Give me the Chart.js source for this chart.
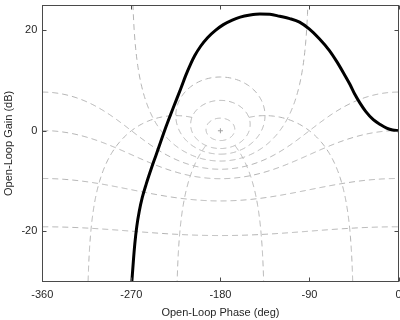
<!DOCTYPE html>
<html>
<head>
<meta charset="utf-8">
<script src="https://cdn.jsdelivr.net/npm/chart.js@4/dist/chart.umd.min.js"></script>
<style>
  html, body { margin: 0; padding: 0; background: #fff; }
  #wrap { width: 400px; height: 320px; }
</style>
</head>
<body>
<div id="wrap"><canvas id="c" width="400" height="320"></canvas></div>
<script>
// Open-loop response: phase (deg) and gain (dB)
const loopPhase = [-269.5, -268.0, -266.5, -264.5, -262.0, -259.0, -255.0, -250.0, -245.0, -240.0,
                   -235.0, -230.0, -225.0, -220.0, -215.0, -210.0, -206.0, -200.0, -193.0, -185.0,
                   -177.0, -168.0, -160.0, -150.0, -140.0, -130.0, -120.0, -110.0, -100.0, -90.0,
                   -80.0, -70.0, -62.5, -55.0, -49.0, -44.0, -38.9, -33.0, -25.5, -18.0,
                   -12.0, -6.0, 0.0];
const loopGain  = [-30.0, -26.0, -22.5, -19.0, -16.0, -13.3, -10.6, -7.6, -4.8, -2.0,
                   0.8, 3.4, 5.9, 8.4, 11.0, 13.3, 14.9, 16.8, 18.5, 19.95,
                   21.1, 22.0, 22.6, 23.0, 23.2, 23.15, 22.75, 22.3, 21.6, 20.2,
                   18.3, 16.0, 13.8, 11.3, 9.2, 7.2, 5.5, 3.8, 2.2, 1.2,
                   0.55, 0.15, 0.0];

// Nichols grid levels: closed-loop gain (dB) and closed-loop phase (deg)
const gridGainsDb = [12, 6, 3, 0, -3, -6, -12, -20];
const gridPhasesDeg = [45, 135, -135, -45];
const phaseLineTopDb = 6;

// Axis ticks
const xTicks = [-360, -270, -180, -90, 0];
const yTicks = [-20, 0, 20];

const RAD = Math.PI / 180;
const toDb = g => 20 * Math.log10(g);

// open-loop point for closed-loop T = m * e^{j phi}: G = T / (1 - T)
function openLoop(m, phiDeg) {
  const a = m * Math.cos(phiDeg * RAD), b = m * Math.sin(phiDeg * RAD);
  const t2 = a * a + b * b;
  const d = Math.hypot(1 - a, b);
  let ph = Math.atan2(b, a - t2) / RAD;
  if (ph > 0) ph -= 360;
  return { x: ph, y: toDb(m / d) };
}

function gainContour(db) {
  const m = Math.pow(10, db / 20);
  const pts = [];
  if (db < 0) {
    for (let th = -360; th <= 0; th += 1) {
      const c = Math.cos(th * RAD);
      const g = (m * m * c + Math.sqrt(m ** 4 * c * c + m * m * (1 - m * m))) / (1 - m * m);
      pts.push({ x: th, y: toDb(g) });
    }
  } else if (db === 0) {
    for (let th = -269.6; th <= -90.4; th += 0.4) {
      pts.push({ x: th, y: toDb(-1 / (2 * Math.cos(th * RAD))) });
    }
  } else {
    for (let phi = -180; phi <= 180; phi += 1) pts.push(openLoop(m, phi));
  }
  return pts;
}

function phaseContour(phi) {
  const pts = [];
  for (let db = phaseLineTopDb; db >= -45; db -= 0.2) {
    pts.push(openLoop(Math.pow(10, db / 20), phi));
  }
  return pts;
}

const gridStyle = {
  type: 'scatter', showLine: true, pointRadius: 0, borderColor: '#b3b3b3',
  borderWidth: 1, borderDash: [6, 4], tension: 0, clip: 0, order: 2
};

const datasets = [];
gridGainsDb.forEach(db => datasets.push(Object.assign({ data: gainContour(db) }, gridStyle)));
gridPhasesDeg.forEach(p => datasets.push(Object.assign({ data: phaseContour(p) }, gridStyle)));
datasets.push({
  type: 'scatter', data: [{ x: -180, y: 0 }], pointStyle: 'cross', pointRadius: 2.5,
  borderColor: '#a0a0a0', borderWidth: 1, order: 1
});
datasets.push({
  type: 'line', data: loopPhase.map((p, i) => ({ x: p, y: loopGain[i] })),
  borderColor: '#000', borderWidth: 3, pointRadius: 0, fill: false,
  cubicInterpolationMode: 'monotone', clip: 0, order: 0
});

// box around the plot with inward ticks on all four sides
const framePlugin = {
  id: 'frame',
  afterDraw(chart) {
    const { ctx, chartArea: a, scales } = chart;
    const L = Math.round(a.left) + 0.5, R = Math.round(a.right) - 0.5;
    const T = Math.round(a.top) + 0.5, B = Math.round(a.bottom) - 0.5;
    ctx.save();
    ctx.strokeStyle = '#4a4a4a';
    ctx.lineWidth = 1;
    ctx.strokeRect(L, T, R - L, B - T);
    ctx.beginPath();
    xTicks.forEach(v => {
      const px = Math.round(scales.x.getPixelForValue(v)) + 0.5;
      ctx.moveTo(px, B); ctx.lineTo(px, B - 4);
      ctx.moveTo(px, T); ctx.lineTo(px, T + 4);
    });
    yTicks.forEach(v => {
      const py = Math.round(scales.y.getPixelForValue(v)) + 0.5;
      ctx.moveTo(L, py); ctx.lineTo(L + 4, py);
      ctx.moveTo(R, py); ctx.lineTo(R - 4, py);
    });
    ctx.stroke();
    ctx.restore();
  }
};

const font = { family: '"Liberation Sans", Arial, Helvetica, sans-serif', size: 11 };

new Chart(document.getElementById('c'), {
  type: 'scatter',
  data: { datasets },
  plugins: [framePlugin],
  options: {
    responsive: false,
    animation: false,
    events: [],
    layout: { autoPadding: false, padding: { top: 5, right: 1.5, left: 0, bottom: 0 } },
    plugins: { legend: { display: false }, tooltip: { enabled: false } },
    scales: {
      x: {
        type: 'linear', min: -360, max: 0,
        grid: { display: false, drawTicks: false },
        border: { display: false },
        afterBuildTicks: s => { s.ticks = xTicks.map(v => ({ value: v })); },
        afterFit: s => { s.height = 38.3; s.paddingLeft = 0; s.paddingRight = 0; },
        ticks: { font, color: '#262626', padding: 7, maxRotation: 0, autoSkip: false },
        title: { display: true, text: 'Open-Loop Phase (deg)', font, color: '#262626', padding: { top: 0, bottom: 0 } }
      },
      y: {
        type: 'linear', min: -30, max: 25,
        grid: { display: false, drawTicks: false },
        border: { display: false },
        afterBuildTicks: s => { s.ticks = yTicks.map(v => ({ value: v })); },
        afterFit: s => { s.width = 42.3; s.paddingTop = 0; s.paddingBottom = 0; },
        ticks: { font, color: '#262626', padding: 5 },
        title: { display: true, text: 'Open-Loop Gain (dB)', font, color: '#262626', padding: { top: 2, bottom: 0 } }
      }
    }
  }
});
</script>
</body>
</html>
